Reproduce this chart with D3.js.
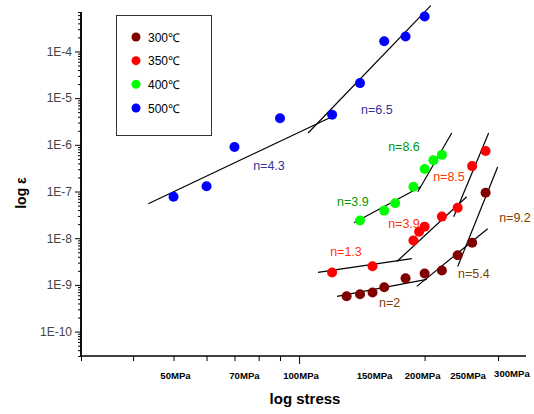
<!DOCTYPE html>
<html><head><meta charset="utf-8">
<script src="https://cdn.jsdelivr.net/npm/d3@7"></script>
<style>
body{margin:0;background:#fff;}
svg{display:block;font-family:Arial,"Liberation Sans",sans-serif;}
</style></head>
<body><svg id="c" width="534" height="414"></svg>
<script>
// ---- data ----
const seriesNames = ["300℃", "350℃", "400℃", "500℃"];
const stress300 = [130, 140, 150, 160, 180, 200, 220, 240, 260, 280];
const strain300 = [5.7e-10, 6.3e-10, 6.9e-10, 8.9e-10, 1.38e-9, 1.76e-9, 2.04e-9, 4.3e-9, 8.0e-9, 9.4e-8];
const stress350 = [120, 150, 188, 194, 200, 220, 240, 260, 280];
const strain350 = [1.85e-9, 2.5e-9, 8.9e-9, 1.38e-8, 1.77e-8, 2.9e-8, 4.5e-8, 3.5e-7, 7.4e-7];
const stress400 = [140, 160, 170, 188, 200, 210, 220];
const strain400 = [2.4e-8, 3.9e-8, 5.6e-8, 1.26e-7, 3.05e-7, 4.7e-7, 6.1e-7];
const stress500 = [50, 60, 70, 90, 120, 140, 160, 180, 200];
const strain500 = [7.7e-8, 1.3e-7, 9.0e-7, 3.7e-6, 4.4e-6, 2.1e-5, 1.65e-4, 2.1e-4, 5.6e-4];

// fitted lines: [stress1, strain1, stress2, strain2]
const fit300 = [[123.3, 5.7e-10, 202.4, 1.31e-9], [191.5, 9.3e-10, 283.3, 1.6e-8], [240.1, 2.48e-9, 299.3, 3.36e-7]];
const fit350 = [[111.0, 1.85e-9, 186.4, 3.67e-9], [171.6, 3.17e-9, 252.3, 7.71e-8], [234.9, 2.89e-8, 284.8, 1.79e-6]];
const fit400 = [[135.4, 2.15e-8, 195.8, 1.26e-7], [192.6, 9.86e-8, 232.3, 1.79e-6]];
const fit500 = [[43.5, 5.47e-8, 120.6, 4.11e-6], [105.1, 1.79e-6, 206.9, 9.58e-4]];

// slope annotations: [text, stress, strain]
const notes300 = [["n=2", 155.5, 3.38e-10], ["n=5.4", 240.6, 1.41e-9], ["n=9.2", 301.8, 2.23e-8]];
const notes350 = [["n=1.3", 118.7, 4.18e-9], ["n=3.9", 163.5, 1.66e-8], ["n=8.5", 209.6, 1.69e-7]];
const notes400 = [["n=3.9", 123.3, 4.92e-8], ["n=8.6", 163.5, 7.4e-7]];
const notes500 = [["n=4.3", 77.6, 2.9e-7], ["n=6.5", 140.8, 4.59e-6]];

const xTickValues = [30, 40, 50, 60, 70, 80, 90, 100, 200, 300];
const xLabelValues = [50, 70, 100, 150, 200, 250, 300];
const yDecades = [1e-10, 1e-9, 1e-8, 1e-7, 1e-6, 1e-5, 1e-4];
const yLabels = ["1E-10", "1E-9", "1E-8", "1E-7", "1E-6", "1E-5", "1E-4"];
const xTitle = "log stress";
const yTitle = "log ε";

// ---- styles ----
const dotColors = ["#800000", "#ff0000", "#00ff00", "#0000ff"];
const noteColors = ["#804000", "#ff3300", "#009900", "#333399"];

const svg = d3.select("#c");
const L = 81, R = 526, T = 12, B = 356;
const x = d3.scaleLog().domain([30, 350]).range([L, R]);
const y = d3.scaleLog().domain([3e-11, 7e-4]).range([B, T]);

// y axis minor ticks
const yMinor = [];
yDecades.concat([1e-11, 1e-3]).forEach(d => { for (let k = 2; k <= 9; k++) { const v = d * k; if (v >= 3e-11 && v <= 7e-4) yMinor.push(v); } });
const gy = svg.append("g").attr("transform", `translate(${L},0)`);
gy.call(d3.axisLeft(y).tickValues(yMinor).tickSize(3).tickFormat(""));
gy.append("g").call(d3.axisLeft(y).tickValues(yDecades).tickSize(6).tickFormat((d, i) => yLabels[i]));
gy.selectAll("path.domain").attr("stroke", "#000").attr("stroke-width", 1.5);
gy.selectAll(".tick line").attr("stroke", "#000");
gy.selectAll(".tick text").attr("font-size", 12).attr("fill", "#444").attr("x", -9)
  .attr("font-family", "Arial,'Liberation Sans',sans-serif");
gy.selectAll("path.domain").attr("d", `M0,${B}V${T}`);

// x axis
const gx = svg.append("g").attr("transform", `translate(0,${B})`);
gx.call(d3.axisBottom(x).tickValues(xTickValues).tickSize(5).tickFormat(""));
gx.selectAll(".tick line").attr("stroke", "#000").attr("y2", d => d === 100 ? 8 : 5);
gx.select("path.domain").attr("stroke", "#000").attr("stroke-width", 1.5).attr("d", `M${L},0H${R}`);
const xShift = d => d === 300 ? -4 : d === 70 ? 10 : d === 200 ? -2 : d === 250 ? 3 : 2;
gx.selectAll("text.xl").data(xLabelValues).enter().append("text")
  .attr("class", "xl")
  .attr("x", d => x(d) + xShift(d))
  .attr("y", d => d === 300 ? 21 : 23)
  .attr("text-anchor", d => d === 300 ? "start" : "middle")
  .attr("font-size", 9.6).attr("font-weight", "bold").attr("fill", "#000")
  .text(d => d + "MPa");

// titles
svg.append("text").attr("x", 305).attr("y", 404).attr("text-anchor", "middle")
  .attr("font-size", 15).attr("font-weight", "bold").text(xTitle);
svg.append("text").attr("transform", "translate(26,193) rotate(-90)").attr("text-anchor", "middle")
  .attr("font-size", 14).attr("font-weight", "bold").text(yTitle);

// fit lines
const fits = [fit300, fit350, fit400, fit500];
fits.forEach(f => {
  svg.append("g").selectAll("line").data(f).enter().append("line")
    .attr("x1", d => x(d[0])).attr("y1", d => y(d[1]))
    .attr("x2", d => x(d[2])).attr("y2", d => y(d[3]))
    .attr("stroke", "#000").attr("stroke-width", 1.2);
});

// points
const series = [[stress300, strain300], [stress350, strain350], [stress400, strain400], [stress500, strain500]];
series.forEach((s, i) => {
  svg.append("g").selectAll("circle").data(s[0]).enter().append("circle")
    .attr("cx", d => x(d)).attr("cy", (d, j) => y(s[1][j])).attr("r", 5)
    .attr("fill", dotColors[i]);
});

// notes
const notes = [notes300, notes350, notes400, notes500];
notes.forEach((n, i) => {
  svg.append("g").selectAll("text").data(n).enter().append("text")
    .attr("x", d => x(d[1])).attr("y", d => y(d[2]))
    .attr("font-size", 12.5).attr("fill", noteColors[i]).text(d => d[0]);
});

// legend
const lg = svg.append("g");
lg.append("rect").attr("x", 116.5).attr("y", 15.5).attr("width", 95).attr("height", 120)
  .attr("fill", "#fff").attr("stroke", "#333").attr("stroke-width", 1);
const ly = d3.scalePoint().domain(seriesNames).range([37, 108]);
seriesNames.forEach((nm, i) => {
  lg.append("circle").attr("cx", 136).attr("cy", ly(nm)).attr("r", 4.5).attr("fill", dotColors[i]);
  lg.append("text").attr("x", 148).attr("y", ly(nm) + 4.5).attr("font-size", 12).attr("fill", "#000").text(nm);
});
</script></body></html>
